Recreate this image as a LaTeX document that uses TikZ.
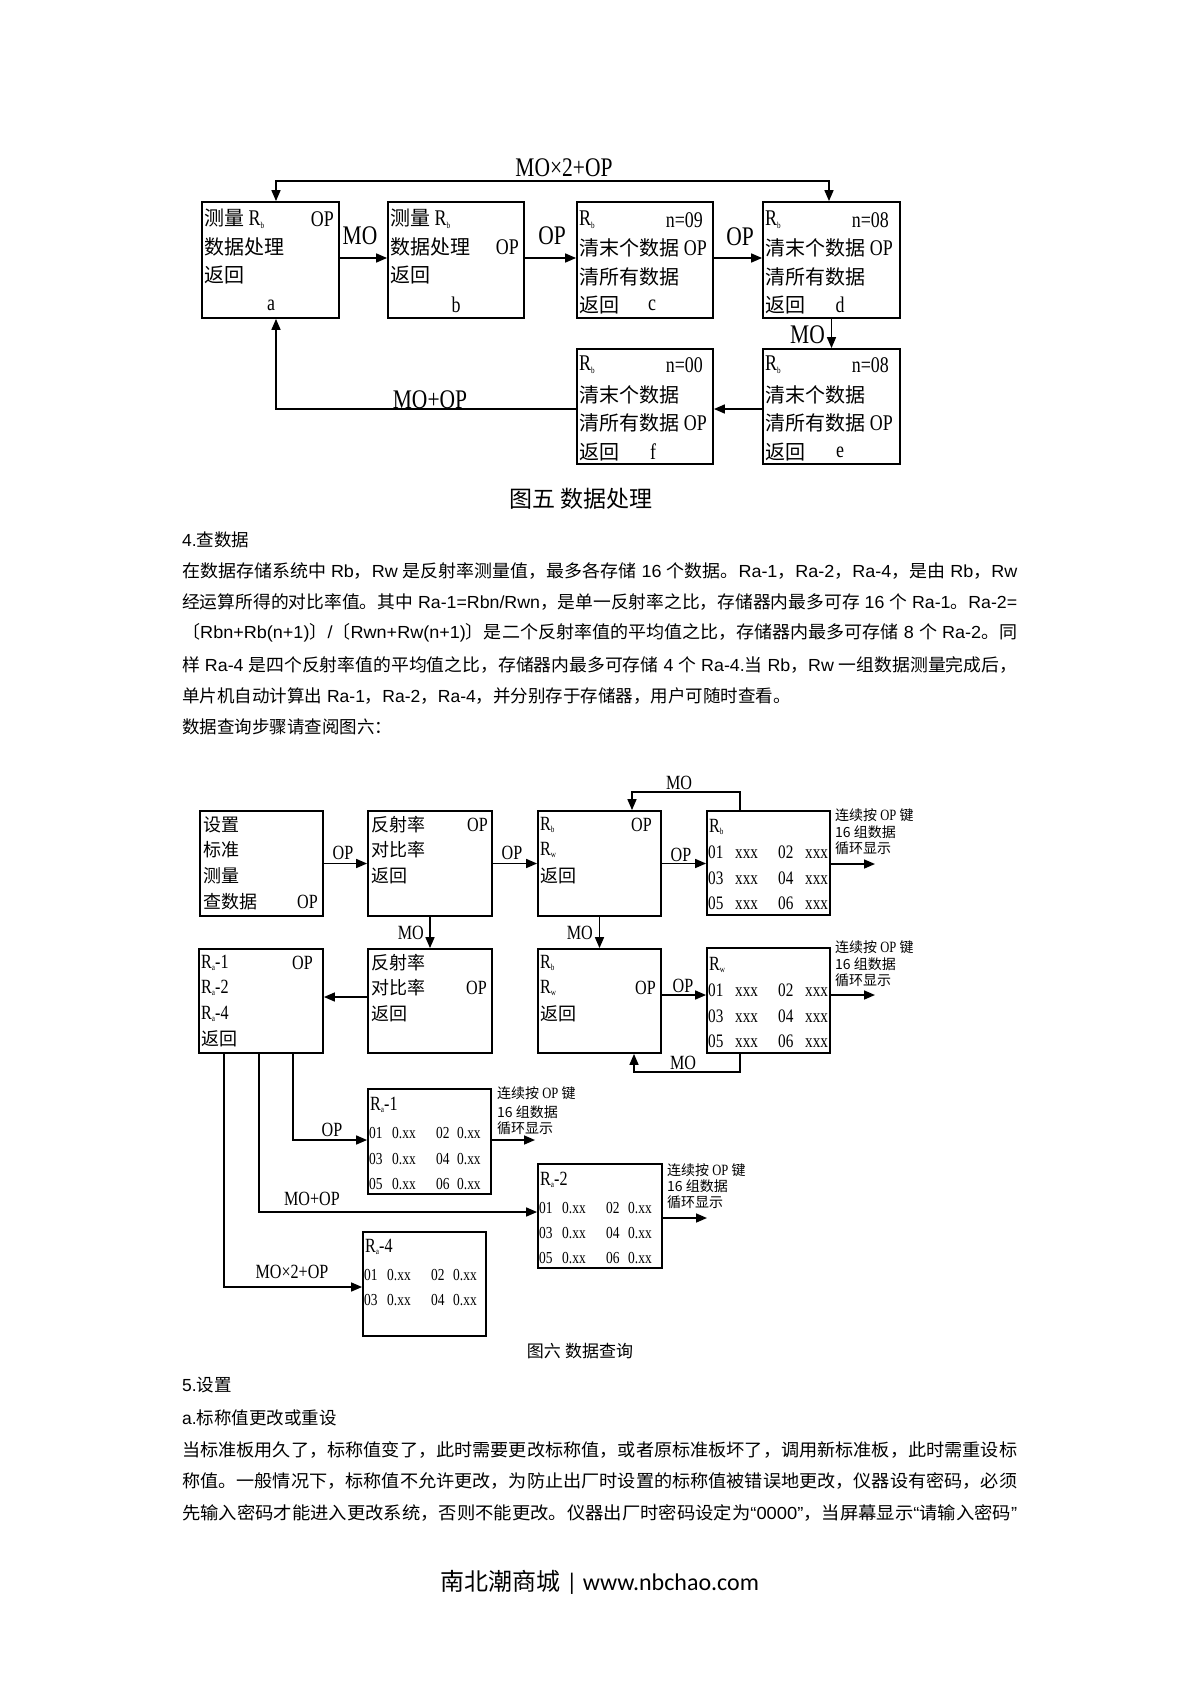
\documentclass[tikz,border=0pt]{standalone}
\usepackage{fontspec}
\usepackage{graphicx}
\usetikzlibrary{arrows.meta}
\setmainfont{Liberation Serif}
\setsansfont{Liberation Sans}
\newfontfamily\cjk{Noto Sans CJK SC}
\newfontfamily\latf[FakeStretch=0.8,Scale=1.12]{Liberation Serif}
\newfontfamily\carl{Carlito}
\def\mylatin{\rmfamily}
\XeTeXinterchartokenstate=1
\newXeTeXintercharclass\CJKclass
\newcount\cjkc
\cjkc="2E80
\loop
  \XeTeXcharclass\cjkc=\CJKclass
  \advance\cjkc by 1
\ifnum\cjkc<"A000 \repeat
\cjkc="FF00
\loop
  \XeTeXcharclass\cjkc=\CJKclass
  \advance\cjkc by 1
\ifnum\cjkc<"FFF0 \repeat
\XeTeXinterchartoks 0 \CJKclass = {\cjk}
\XeTeXinterchartoks 4095 \CJKclass = {\cjk}
\XeTeXinterchartoks \CJKclass 0 = {\mylatin}
\XeTeXinterchartoks \CJKclass 4095 = {\mylatin}
\newcommand\Rs[1]{R\raisebox{-0.12em}{\fontsize{8}{8}\selectfont #1}}
\newcommand\txL[4]{\node[anchor=west,inner sep=0pt] (#1) at (#2,#3) {#4};}
\newcommand\txR[4]{\node[anchor=east,inner sep=0pt] (#1) at (#2,#3) {#4};}
\newcommand\txC[4]{\node[inner sep=0pt] (#1) at (#2,#3) {#4};}
\newcommand\drow[7]{\makebox[#1pt][l]{#4}\makebox[#2pt][l]{#5}\makebox[#3pt][l]{#6}#7}
\newcommand\full[1]{\resizebox{835pt}{\height}{#1}}
\newcommand\sidetxt{连续按 OP 键}
\tikzset{
  boxn/.style={draw, line width=1.8pt, inner sep=0pt},
  arr/.style={line width=1.6pt, -{Triangle[length=11pt,width=9pt]}},
  arrtwo/.style={line width=1.6pt, {Triangle[length=11pt,width=9pt]}-{Triangle[length=11pt,width=9pt]}},
  ln/.style={line width=1.6pt}
}
\begin{document}
\begin{tikzpicture}[x=1pt,y=-1pt]
\useasboundingbox (0,0) rectangle (1200,1697);
\fill[white] (0,0) rectangle (1200,1697);

% ================= Figure 5 =================
\node[boxn, minimum width=137pt, minimum height=116pt] (a) at (270.5,260) {};
\node[boxn, minimum width=136pt, minimum height=116pt] (b) at (456,260) {};
\node[boxn, minimum width=136pt, minimum height=116pt] (c) at (645,260) {};
\node[boxn, minimum width=137pt, minimum height=116pt] (d) at (831.5,260) {};
\node[boxn, minimum width=137pt, minimum height=115pt] (e) at (831.5,406.5) {};
\node[boxn, minimum width=136pt, minimum height=115pt] (f) at (645,406.5) {};

\begin{scope}[every node/.append style={font={\def\mylatin{\latf}\fontsize{20}{24}\latf}}]
\txL{a1}{204}{219}{测量 \Rs{b}} \txR{a2}{334}{219}{OP} \txL{a3}{204}{247}{数据处理} \txL{a4}{204}{275}{返回} \txC{a5}{271}{305}{a}
\txL{b1}{390}{219}{测量 \Rs{b}} \txL{b2}{390}{247}{数据处理} \txR{b3}{519}{247}{OP} \txL{b4}{390}{275}{返回} \txC{b5}{456}{305}{b}
\txL{c1}{579}{220}{\Rs{b}} \txR{c2}{703}{220}{n=09} \txL{c3}{579}{248}{清末个数据} \txR{c4}{707}{248}{OP} \txL{c5}{579}{277}{清所有数据} \txL{c6}{579}{305}{返回} \txC{c7}{652}{305}{c}
\txL{d1}{765}{220}{\Rs{b}} \txR{d2}{889}{220}{n=08} \txL{d3}{765}{248}{清末个数据} \txR{d4}{893}{248}{OP} \txL{d5}{765}{277}{清所有数据} \txL{d6}{765}{305}{返回} \txC{d7}{840}{305}{d}
\txL{e1}{765}{365}{\Rs{b}} \txR{e2}{889}{365}{n=08} \txL{e3}{765}{395}{清末个数据} \txL{e4}{765}{423}{清所有数据} \txR{e5}{893}{423}{OP} \txL{e6}{765}{452}{返回} \txC{e7}{840}{452}{e}
\txL{f1}{579}{365}{\Rs{b}} \txR{f2}{703}{365}{n=00} \txL{f3}{579}{395}{清末个数据} \txL{f4}{579}{423}{清所有数据} \txR{f5}{707}{423}{OP} \txL{f6}{579}{452}{返回} \txC{f7}{653}{452}{f}
\end{scope}

\coordinate (t1) at (276,181);
\coordinate (t2) at (829,181);
\coordinate (h1) at (0,258);
\coordinate (fa) at (276,409);
\draw[arrtwo] (t1 |- a.north) -- (t1) -- (t2) -- (t2 |- d.north);
\draw[arr] (a.east |- h1) -- (b.west |- h1);
\draw[arr] (b.east |- h1) -- (c.west |- h1);
\draw[arr] (c.east |- h1) -- (d.west |- h1);
\draw[arr] (d.south) -- (e.north);
\draw[arr] (e.west |- fa) -- (f.east |- fa);
\draw[arr] (f.west |- fa) -- (fa) -- (fa |- a.south);

\begin{scope}[every node/.append style={font={\def\mylatin{\latf}\fontsize{24}{28}\latf}}]
\txC{l1}{564}{168}{MO×2+OP}
\txC{l2}{360}{236}{MO}
\txC{l3}{552}{236}{OP}
\txC{l4}{740}{237}{OP}
\txR{l5}{825}{335}{MO}
\txC{l6}{430}{400}{MO+OP}
\end{scope}

\node[inner sep=0pt, font={\fontsize{23}{26}\cjk}] (cap5) at (581,499) {图五 数据处理};

% ================= Body text =================
\begin{scope}[every node/.append style={font={\def\mylatin{\sffamily}\fontsize{17.5}{20}\sffamily}}]
\txL{p0}{182}{540}{4.查数据}
\txL{pl1}{182}{571}{\full{在数据存储系统中 Rb，Rw 是反射率测量值，最多各存储 16 个数据。Ra-1，Ra-2，Ra-4，是由 Rb，Rw}}
\txL{pl2}{182}{602}{\full{经运算所得的对比率值。其中 Ra-1=Rbn/Rwn，是单一反射率之比，存储器内最多可存 16 个 Ra-1。Ra-2=}}
\txL{pl3}{182}{633}{\full{〔Rbn+Rb(n+1)〕/〔Rwn+Rw(n+1)〕是二个反射率值的平均值之比，存储器内最多可存储 8 个 Ra-2。同}}
\txL{pl4}{182}{665}{\full{样 Ra-4 是四个反射率值的平均值之比，存储器内最多可存储 4 个 Ra-4.当 Rb，Rw 一组数据测量完成后，}}
\txL{pl5}{182}{696}{单片机自动计算出 Ra-1，Ra-2，Ra-4，并分别存于存储器，用户可随时查看。}
\txL{pl6}{182}{727}{数据查询步骤请查阅图六：}
\txL{s50}{182}{1385}{5.设置}
\txL{s5a}{182}{1418}{a.标称值更改或重设}
\txL{s51}{182}{1450}{\full{当标准板用久了，标称值变了，此时需要更改标称值，或者原标准板坏了，调用新标准板，此时需重设标}}
\txL{s52}{182}{1481}{\full{称值。一般情况下，标称值不允许更改，为防止出厂时设置的标称值被错误地更改，仪器设有密码，必须}}
\txL{s53}{182}{1513}{\full{先输入密码才能进入更改系统，否则不能更改。仪器出厂时密码设定为“0000”，当屏幕显示“请输入密码”}}
\end{scope}

% ================= Figure 6 =================
\node[boxn, minimum width=123pt, minimum height=105pt] (S) at (261.5,863.5) {};
\node[boxn, minimum width=124pt, minimum height=105pt] (R1) at (430,863.5) {};
\node[boxn, minimum width=123pt, minimum height=105pt] (B1) at (599.5,863.5) {};
\node[boxn, minimum width=123pt, minimum height=104pt] (D1) at (768.5,863) {};
\node[boxn, minimum width=124pt, minimum height=104pt] (Ra) at (261,1001) {};
\node[boxn, minimum width=124pt, minimum height=104pt] (R2) at (430,1001) {};
\node[boxn, minimum width=123pt, minimum height=104pt] (B2) at (599.5,1001) {};
\node[boxn, minimum width=123pt, minimum height=105pt] (D2) at (768.5,1000.5) {};
\node[boxn, minimum width=123pt, minimum height=105pt] (A1) at (429.5,1141.5) {};
\node[boxn, minimum width=124pt, minimum height=104pt] (A2) at (600,1216) {};
\node[boxn, minimum width=123pt, minimum height=104pt] (A4) at (424.5,1284) {};

\begin{scope}[every node/.append style={font={\def\mylatin{\latf}\fontsize{18}{22}\latf}}]
\txL{s1}{203}{825}{设置} \txL{s2}{203}{850}{标准} \txL{s3}{203}{876}{测量} \txL{s4}{203}{902}{查数据} \txR{s5}{318}{902}{OP}
\txL{p1}{371}{825}{反射率} \txR{p2}{488}{825}{OP} \txL{p3}{371}{850}{对比率} \txL{p4}{371}{876}{返回}
\txL{q1}{540}{825}{\Rs{b}} \txR{q2}{652}{825}{OP} \txL{q3}{540}{850}{\Rs{w}} \txL{q4}{540}{876}{返回}
\txL{u1}{201}{963}{\Rs{a}-1} \txR{u2}{313}{963}{OP} \txL{u3}{201}{988}{\Rs{a}-2} \txL{u4}{201}{1014}{\Rs{a}-4} \txL{u5}{201}{1039}{返回}
\txL{v1}{371}{963}{反射率} \txL{v2}{371}{988}{对比率} \txR{v3}{487}{988}{OP} \txL{v4}{371}{1014}{返回}
\txL{w1}{540}{963}{\Rs{b}} \txL{w2}{540}{988}{\Rs{w}} \txR{w3}{656}{988}{OP} \txL{w4}{540}{1014}{返回}
\txL{x1}{709}{827}{\Rs{b}}
\txL{y1}{709}{965}{\Rs{w}}
\txL{z1}{370}{1105}{\Rs{a}-1}
\txL{z2}{540}{1180}{\Rs{a}-2}
\txL{z4}{365}{1247}{\Rs{a}-4}
% labels
\txC{g1}{343}{853}{OP} \txC{g2}{512}{853}{OP} \txC{g3}{681}{855}{OP}
\txR{g4}{424}{933}{MO} \txR{g5}{593}{933}{MO} \txC{g6}{683}{986}{OP}
\txC{g7}{679}{783}{MO} \txC{g8}{683}{1063}{MO}
\txC{g9}{332}{1130}{OP} \txC{g10}{312}{1199}{MO+OP} \txC{g11}{292}{1272}{MO×2+OP}
\end{scope}

\begin{scope}[every node/.append style={font={\def\mylatin{\latf}\fontsize{17}{20}\latf}}]
\txL{x2}{708}{852}{\drow{27}{43}{27}{01}{xxx}{02}{xxx}}
\txL{x3}{708}{878}{\drow{27}{43}{27}{03}{xxx}{04}{xxx}}
\txL{x4}{708}{903}{\drow{27}{43}{27}{05}{xxx}{06}{xxx}}
\txL{y2}{708}{990}{\drow{27}{43}{27}{01}{xxx}{02}{xxx}}
\txL{y3}{708}{1016}{\drow{27}{43}{27}{03}{xxx}{04}{xxx}}
\txL{y4}{708}{1041}{\drow{27}{43}{27}{05}{xxx}{06}{xxx}}
\end{scope}

\begin{scope}[every node/.append style={font={\def\mylatin{\latf}\fontsize{15}{18}\latf}}]
\txL{z12}{369}{1133}{\drow{23}{44}{21}{01}{0.xx}{02}{0.xx}}
\txL{z13}{369}{1159}{\drow{23}{44}{21}{03}{0.xx}{04}{0.xx}}
\txL{z14}{369}{1184}{\drow{23}{44}{21}{05}{0.xx}{06}{0.xx}}
\txL{z22}{539}{1208}{\drow{23}{44}{22}{01}{0.xx}{02}{0.xx}}
\txL{z23}{539}{1233}{\drow{23}{44}{22}{03}{0.xx}{04}{0.xx}}
\txL{z24}{539}{1258}{\drow{23}{44}{22}{05}{0.xx}{06}{0.xx}}
\txL{z42}{364}{1275}{\drow{23}{44}{22}{01}{0.xx}{02}{0.xx}}
\txL{z43}{364}{1300}{\drow{23}{44}{22}{03}{0.xx}{04}{0.xx}}
\end{scope}

\begin{scope}[every node/.append style={font={\def\mylatin{\latf}\fontsize{14}{16}\cjk}}]
\txL{k1}{835}{815}{\sidetxt} \txL{k2}{835}{832}{16 组数据} \txL{k3}{835}{848}{循环显示}
\txL{k4}{835}{947}{\sidetxt} \txL{k5}{835}{964}{16 组数据} \txL{k6}{835}{980}{循环显示}
\txL{k7}{497}{1093}{\sidetxt} \txL{k8}{497}{1112}{16 组数据} \txL{k9}{497}{1128}{循环显示}
\txL{k10}{667}{1170}{\sidetxt} \txL{k11}{667}{1186}{16 组数据} \txL{k12}{667}{1202}{循环显示}
\end{scope}

% connectors fig 6
\coordinate (h2) at (0,997);
\coordinate (h3) at (0,995);
\coordinate (m1) at (740,792);
\coordinate (m2) at (632,792);
\coordinate (m3) at (740,1072);
\coordinate (m4) at (634,1072);
\coordinate (o1) at (875,864);
\coordinate (o2) at (875,995);
\coordinate (o3) at (535,1140);
\coordinate (o4) at (707,1218);
\coordinate (r1) at (293,1140);
\coordinate (r2) at (259,1212);
\coordinate (r3) at (224,1287);
\draw[arr] (S) -- (R1);
\draw[arr] (R1) -- (B1);
\draw[arr] (B1.east) -- (B1.east -| D1.west);
\draw[arr] (R1.south) -- (R2.north);
\draw[arr] (B1.south) -- (B2.north);
\draw[arr] (R2.west |- h2) -- (Ra.east |- h2);
\draw[arr] (B2.east |- h3) -- (D2.west |- h3);
\draw[arr] (m1 |- D1.north) -- (m1) -- (m2) -- (m2 |- B1.north);
\draw[arr] (m3 |- D2.south) -- (m3) -- (m4) -- (m4 |- B2.south);
\draw[arr] (o1 -| D1.east) -- (o1);
\draw[arr] (o2 -| D2.east) -- (o2);
\draw[arr] (o3 -| A1.east) -- (o3);
\draw[arr] (o4 -| A2.east) -- (o4);
\draw[arr] (r1 |- Ra.south) -- (r1) -- (r1 -| A1.west);
\draw[arr] (r2 |- Ra.south) -- (r2) -- (r2 -| A2.west);
\draw[arr] (r3 |- Ra.south) -- (r3) -- (r3 -| A4.west);

\node[inner sep=0pt, font={\fontsize{17}{20}\cjk}] (cap6) at (580,1351) {图六 数据查询};

\node[inner sep=0pt, font={\def\mylatin{\carl}\fontsize{24}{28}\carl}] (ft) at (600,1582) {南北潮商城 | www.nbchao.com};
\end{tikzpicture}
\end{document}
